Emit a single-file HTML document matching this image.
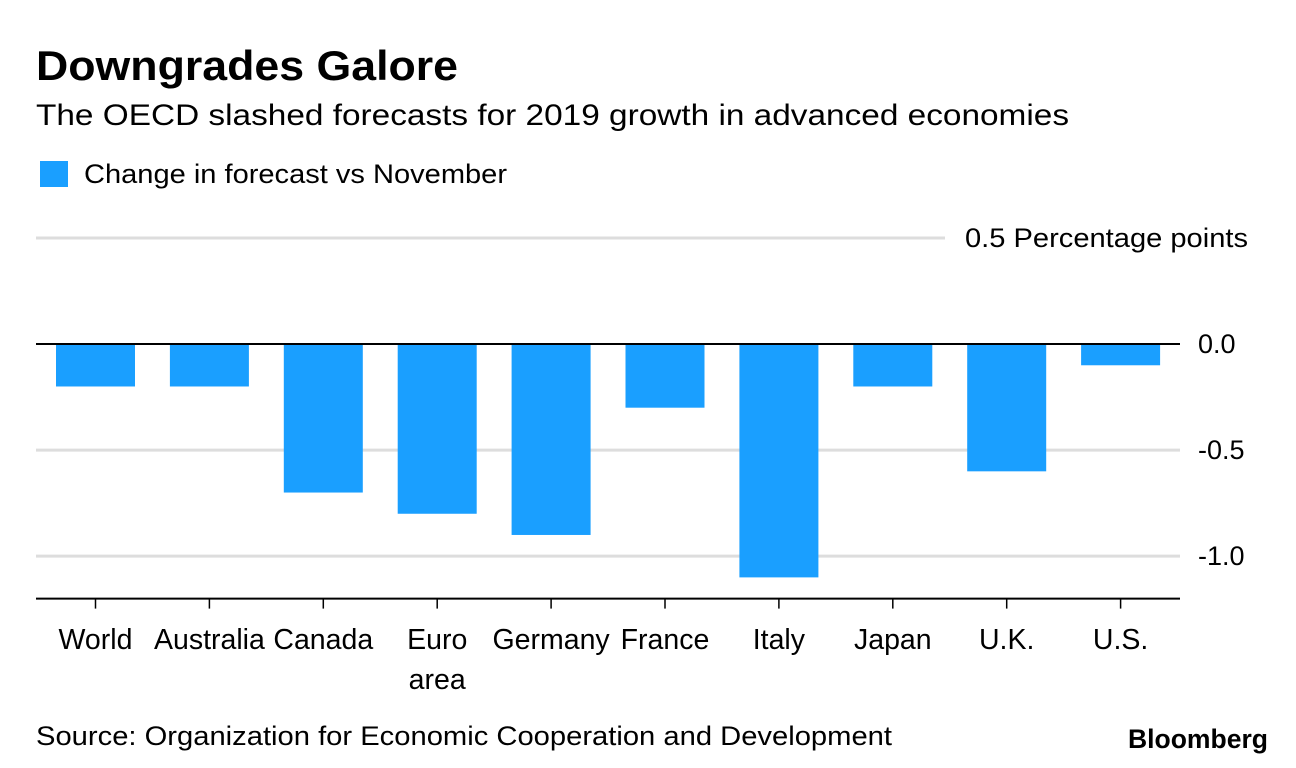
<!DOCTYPE html>
<html><head><meta charset="utf-8"><style>
body{margin:0;background:#fff;width:1296px;height:768px;overflow:hidden;font-family:"Liberation Sans",sans-serif;color:#000}
</style></head><body>
<svg width="1296" height="768" style="position:absolute;left:0;top:0">
<text x="36" y="80" font-size="42" font-weight="bold" textLength="422" lengthAdjust="spacingAndGlyphs">Downgrades Galore</text>
<text x="36" y="125" font-size="30" textLength="1033" lengthAdjust="spacingAndGlyphs">The OECD slashed forecasts for 2019 growth in advanced economies</text>
<rect x="40" y="161" width="28" height="26" fill="#1a9fff"/>
<text x="84" y="183" font-size="27" textLength="423" lengthAdjust="spacingAndGlyphs">Change in forecast vs November</text>
<g id="grid"></g><g id="bars"></g><g id="axis"></g>
<text x="36" y="745" font-size="27" textLength="856" lengthAdjust="spacingAndGlyphs">Source: Organization for Economic Cooperation and Development</text>
<text x="1128" y="748" font-size="27" font-weight="bold" textLength="140" lengthAdjust="spacingAndGlyphs">Bloomberg</text>
</svg>
<script>
const categories=[["World"],["Australia"],["Canada"],["Euro","area"],["Germany"],["France"],["Italy"],["Japan"],["U.K."],["U.S."]];
const values=[-0.2,-0.2,-0.7,-0.8,-0.9,-0.3,-1.1,-0.2,-0.6,-0.1];
const ticks=[0.5,0,-0.5,-1.0];
const tickLabels=["0.5 Percentage points","0.0","-0.5","-1.0"];
const NS="http://www.w3.org/2000/svg";
const L=36,R=1180,yMin=-1.2,yMax=0.5,yTop=238,yBot=598.6;
const y=v=>yTop+(yMax-v)/(yMax-yMin)*(yBot-yTop);
const band=113.9,firstCenter=95.5;
const cxf=i=>firstCenter+band*i;
function mk(t,a,p){const e=document.createElementNS(NS,t);for(const k in a)e.setAttribute(k,a[k]);p.appendChild(e);return e;}
const grid=document.getElementById('grid'),bars=document.getElementById('bars'),axis=document.getElementById('axis');
ticks.forEach((t,i)=>{
  const first=i===0;
  const ln=mk('line',{x1:L,x2:first?945:R,y1:y(t),y2:y(t),stroke:t===0?'#000':'#ddd','stroke-width':t===0?2:3},t===0?axis:grid);
  
  
  const attrs={x:first?965:1198,y:y(t)+9,'font-size':27};
  if(first){attrs.textLength=283;attrs.lengthAdjust='spacingAndGlyphs';}
  const tx=mk('text',attrs,grid);
  tx.textContent=tickLabels[i];
  
  
});
values.forEach((v,i)=>{
  const bw=79,cx=cxf(i),bx=cx-bw/2;
  const r=mk('rect',{x:bx,y:Math.min(y(0),y(v)),width:bw,height:Math.abs(y(v)-y(0)),fill:'#1a9fff'},bars);
  
  
  const tk=mk('line',{x1:cx,x2:cx,y1:yBot,y2:yBot+10,stroke:'#000','stroke-width':1.5},axis);
  
  
  categories[i].forEach((s,j)=>{
    const t=mk('text',{x:cx,y:649+j*40,'font-size':28.5,'text-anchor':'middle'},axis);
    t.textContent=s;
    
    
  });
});
const base=mk('line',{x1:L,x2:R,y1:yBot,y2:yBot,stroke:'#000','stroke-width':2},axis);


</script>
</body></html>
